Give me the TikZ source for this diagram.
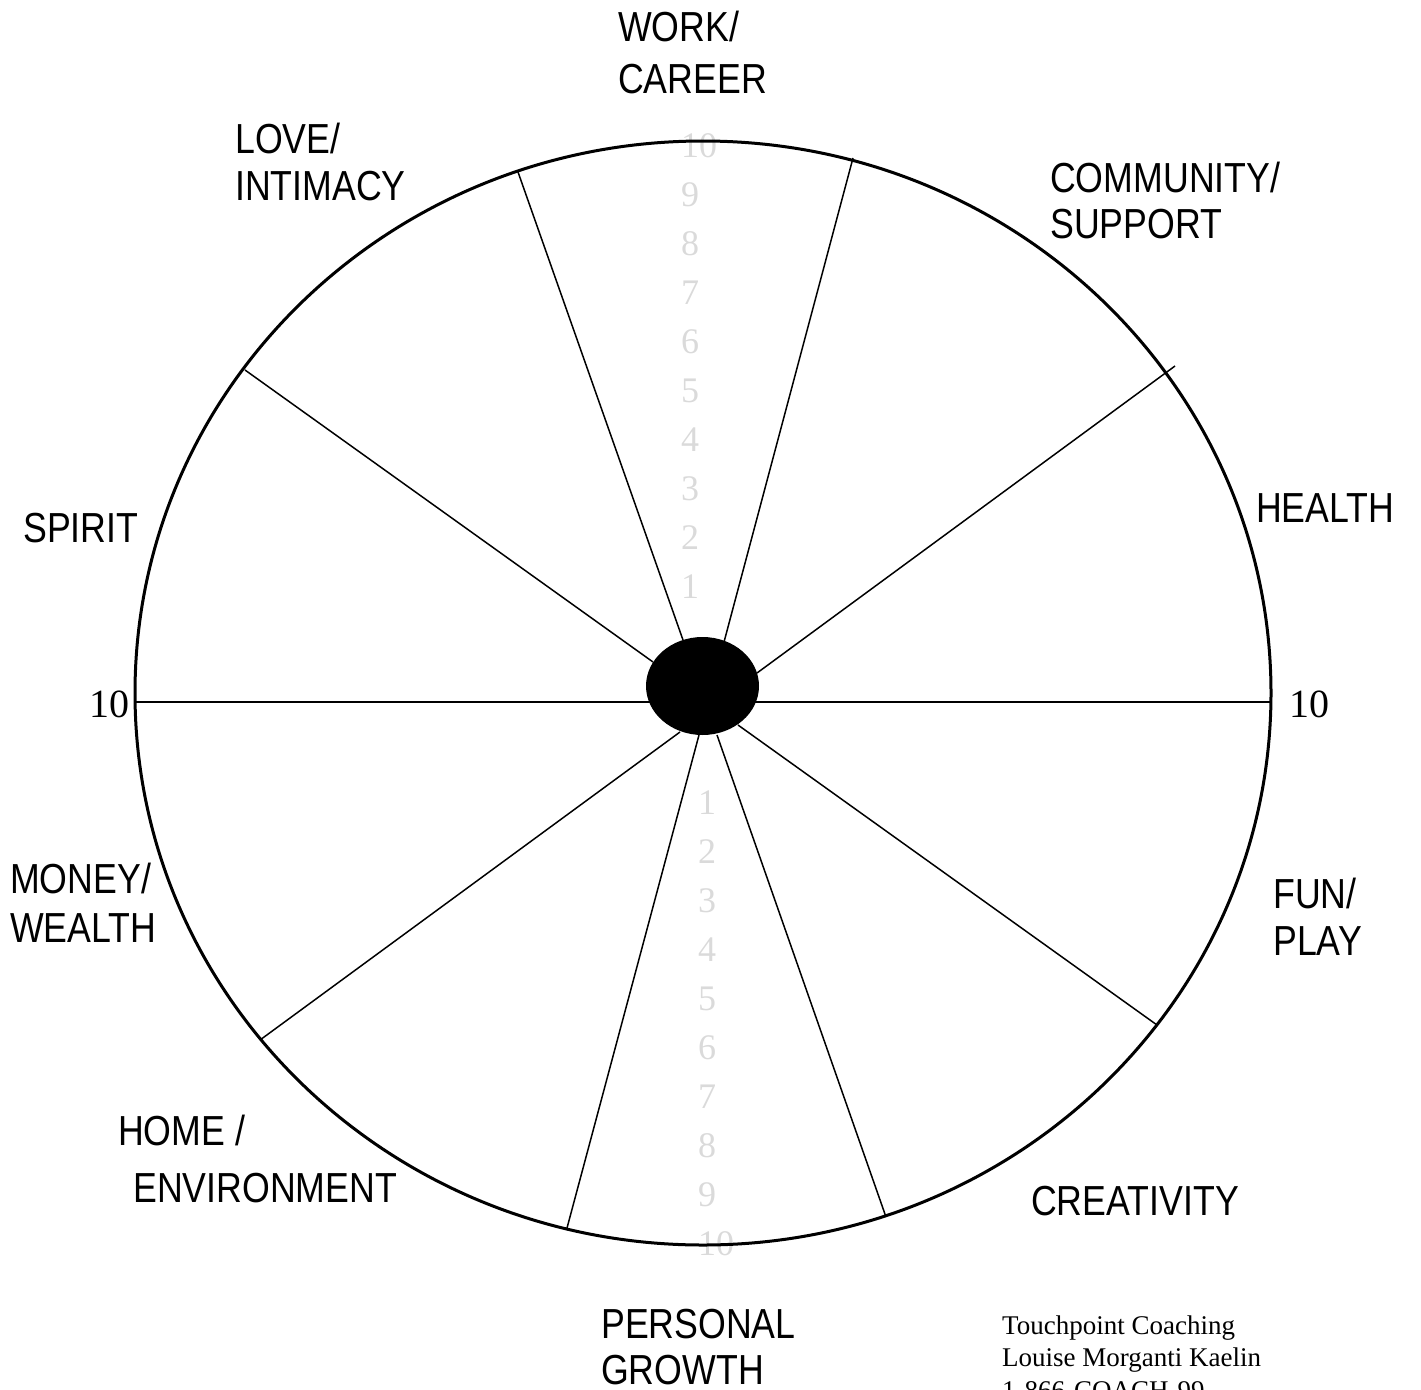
\documentclass[tikz,border=0pt]{standalone}
\usepackage{fontspec}
\setmainfont{Liberation Serif}
\newfontfamily\handfont[FakeStretch=0.85]{Liberation Sans}
\usetikzlibrary{shapes.geometric}
\definecolor{numgray}{HTML}{DADADA}
\begin{document}
\begin{tikzpicture}[x=1pt,y=-1pt,
  lbl/.style={font=\handfont\fontsize{42}{42}\selectfont, anchor=base west, inner sep=0pt},
  gnum/.style={font=\fontsize{36}{36}\selectfont, text=numgray, anchor=base west, inner sep=0pt},
  bnum/.style={font=\fontsize{40}{40}\selectfont, anchor=base west, inner sep=0pt},
  credit/.style={font=\fontsize{27}{27}\selectfont, anchor=base west, inner sep=0pt},
  spoke/.style={line width=1.5pt},
  rim/.style={line width=3pt}]
\useasboundingbox (0,0) rectangle (1421,1389);

% gray scale numbers (behind the wheel)
\foreach \n in {1,...,10} {
  \node[gnum] (up\n) at (681,{598-49*(\n-1)}) {\n};
  \node[gnum] (dn\n) at (698,{814+49*(\n-1)}) {\n};
}

% spoke end points
\coordinate (o1) at (518,172);   \coordinate (i1) at (683,640);
\coordinate (o2) at (853,158);   \coordinate (i2) at (724,642);
\coordinate (o3) at (1175,366);  \coordinate (i3) at (757,673);
\coordinate (o4) at (245,370);   \coordinate (i4) at (653,662);
\coordinate (o5) at (134,702);   \coordinate (o6) at (1270,702);
\coordinate (o7) at (260,1040);  \coordinate (i7) at (680,732);
\coordinate (o8) at (567,1228);  \coordinate (i8) at (699,735);
\coordinate (o9) at (886,1217);  \coordinate (i9) at (717,735);
\coordinate (o10) at (1157,1025);\coordinate (i10) at (738,725);

\draw[spoke] (o1) -- (i1);
\draw[spoke] (o2) -- (i2);
\draw[spoke] (o3) -- (i3);
\draw[spoke] (o4) -- (i4);
\draw[spoke] (o5) -- (o6);
\draw[spoke] (o7) -- (i7);
\draw[spoke] (o8) -- (i8);
\draw[spoke] (o9) -- (i9);
\draw[spoke] (o10) -- (i10);

% rim
\draw[rim] (703,693) ellipse [x radius=568pt, y radius=552pt];

% hub
\node[ellipse, fill=black, draw=none, minimum width=113pt, minimum height=98pt, inner sep=0pt] (hub) at (702.5,686) {};

% end numbers
\node[bnum] (tenL) at (89,717) {10};
\node[bnum] (tenR) at (1289,717) {10};

% category labels
\node[lbl] (workA) at (618,42) {WORK/};
\node[lbl] (workB) at (618,93) {CAREER};
\node[lbl] (loveA) at (235,153) {LOVE/};
\node[lbl] (loveB) at (235,200) {INTIMACY};
\node[lbl] (commA) at (1050,192) {COMMUNITY/};
\node[lbl] (commB) at (1050,238) {SUPPORT};
\node[lbl] (health) at (1256,522) {HEALTH};
\node[lbl] (spirit) at (23,542) {SPIRIT};
\node[lbl] (moneyA) at (10,893) {MONEY/};
\node[lbl] (moneyB) at (10,942) {WEALTH};
\node[lbl] (funA) at (1273,908) {FUN/};
\node[lbl] (funB) at (1273,955) {PLAY};
\node[lbl] (homeA) at (118,1145) {HOME /};
\node[lbl] (homeB) at (133,1202) {ENVIRONMENT};
\node[lbl] (creat) at (1031,1215) {CREATIVITY};
\node[lbl] (persA) at (601,1338) {PERSONAL};
\node[lbl] (persB) at (601,1384) {GROWTH};

% credit
\node[credit] (cred1) at (1002,1334) {Touchpoint Coaching};
\node[credit] (cred2) at (1002,1366) {Louise Morganti Kaelin};
\node[credit] (cred3) at (1002,1399) {1-866-COACH-99};
\end{tikzpicture}
\end{document}
